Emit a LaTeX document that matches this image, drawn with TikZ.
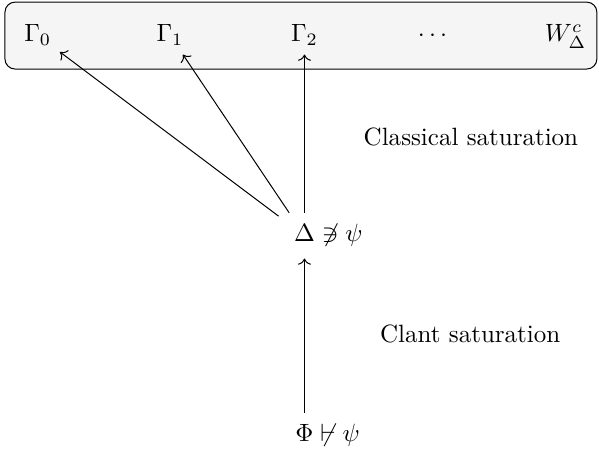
\documentclass[tikz,border=0pt]{standalone}
\usepackage{amsmath}
\usepackage{amssymb}
\usepackage{mathtools}
\usepackage{xcolor}
\usepackage{tikz}
\usetikzlibrary{positioning, arrows.meta}

\tikzset{
  world/.style={anchor=base, inner sep=3.33pt},
  formula/.style={anchor=base, inner xsep=6pt, inner ysep=4.5pt},
  steplabel/.style={anchor=base}
}

\begin{document}
\begin{tikzpicture}
        \useasboundingbox (0,0) rectangle (8.42,6.34);

        % Box of saturated worlds
        \draw[rounded corners, fill=black!4] (0.07,5.37) rectangle (8.39,6.31);

        \node[world] (g0) at (0.53,5.75) {$\Gamma_0$};
        \node[world] (g1) at (2.39,5.75) {$\Gamma_1$};
        \node[world] (g2) at (4.28,5.75) {$\Gamma_2$};
        \node[world] (dots) at (6.11,5.75) {$\cdots$};
        \node[world] (wc) at (7.95,5.75) {$W^c_\Delta$};

        % Formulas
        \node[formula] (delta) at (4.28,2.94) {$\Delta\mathrlap{{}\not\ni \psi}$};
        \node[formula] (phi) at (4.28,0.13) {$\Phi\mathrlap{{}\not\vdash \psi}$};

        \node[steplabel] (classic) at (6.62,4.29) {Classical saturation};
        \node[steplabel] (clant) at (6.61,1.52) {Clant saturation};

        % Arrows
        \foreach \g in {g0, g1, g2} {
          \draw[->] (delta) -- (\g);
        }
        \draw[->] (phi) -- (delta);
\end{tikzpicture}
\end{document}
